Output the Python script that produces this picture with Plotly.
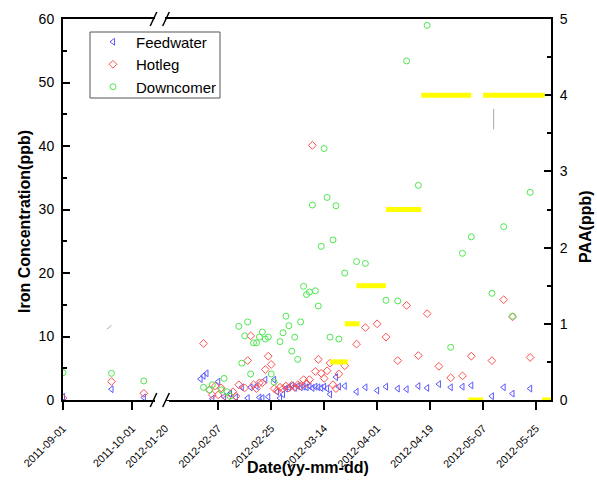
import plotly.graph_objects as go

# ---------------- data ----------------
feed_dates = ["2011-09-01", "2011-09-22", "2011-10-06",
              "2012-02-01", "2012-02-02", "2012-02-03", "2012-02-05", "2012-02-07", "2012-02-09",
              "2012-02-11", "2012-02-13", "2012-02-15", "2012-02-17", "2012-02-18", "2012-02-20",
              "2012-02-21", "2012-02-22", "2012-02-23", "2012-02-24", "2012-02-26", "2012-02-27",
              "2012-02-28", "2012-02-29", "2012-03-01", "2012-03-02", "2012-03-03", "2012-03-04",
              "2012-03-05", "2012-03-06", "2012-03-07", "2012-03-08", "2012-03-09", "2012-03-10",
              "2012-03-11", "2012-03-12", "2012-03-13", "2012-03-14", "2012-03-15", "2012-03-16",
              "2012-03-18", "2012-03-19", "2012-03-21", "2012-03-25", "2012-03-28", "2012-04-01",
              "2012-04-04", "2012-04-08", "2012-04-11", "2012-04-15", "2012-04-18", "2012-04-22",
              "2012-04-26", "2012-04-30", "2012-05-03", "2012-05-10", "2012-05-14", "2012-05-17",
              "2012-05-23"]
feed_vals = [0.5, 1.7, 0.4,
             3.3, 3.8, 4.2, 0.2, 2.9, 0.5,
             1.0, 0.4, 2.0, 0.3, 2.0, 2.2,
             0.4, 0.3, 3.2, 0.5, 3.2, 1.3,
             0.3, 0.9, 1.8, 2.0, 2.3, 1.9,
             2.2, 2.0, 2.1, 2.0, 2.2, 1.9,
             2.1, 2.0, 1.9, 2.1, 1.8, 0.9,
             3.6, 2.1, 2.2, 1.3, 2.0, 1.5,
             2.1, 1.8, 1.7, 2.2, 1.9, 2.5,
             2.0, 2.1, 2.3, 0.6, 2.0, 1.0,
             1.8]

hot_dates = ["2011-09-01", "2011-09-22", "2011-10-06",
             "2012-02-02", "2012-02-04", "2012-02-05", "2012-02-06", "2012-02-07", "2012-02-08",
             "2012-02-10", "2012-02-12", "2012-02-13", "2012-02-14", "2012-02-16", "2012-02-17",
             "2012-02-18", "2012-02-19", "2012-02-20", "2012-02-21", "2012-02-22", "2012-02-23",
             "2012-02-24", "2012-02-25", "2012-02-26", "2012-02-27", "2012-02-28", "2012-02-29",
             "2012-03-01", "2012-03-02", "2012-03-03", "2012-03-04", "2012-03-05", "2012-03-06",
             "2012-03-07", "2012-03-08", "2012-03-09", "2012-03-10", "2012-03-11", "2012-03-12",
             "2012-03-13", "2012-03-14", "2012-03-15", "2012-03-16", "2012-03-17", "2012-03-18",
             "2012-03-19", "2012-03-21", "2012-03-25", "2012-03-28", "2012-04-01", "2012-04-04",
             "2012-04-08", "2012-04-11", "2012-04-15", "2012-04-18", "2012-04-22", "2012-04-26",
             "2012-04-30", "2012-05-03", "2012-05-10", "2012-05-14", "2012-05-17", "2012-05-23"]
hot_vals = [0.3, 2.9, 1.05,
            8.9, 1.6, 0.8, 2.2, 0.8, 1.9,
            0.3, 1.3, 0.6, 2.4, 1.9, 6.2,
            10.1, 2.4, 1.8, 2.7, 2.7, 4.8,
            6.9, 5.6, 1.8, 1.5, 2.0, 1.8,
            2.2, 1.9, 2.3, 2.0, 2.4, 2.2,
            3.2, 2.6, 3.2, 40.1, 4.5, 6.4,
            4.2, 3.4, 4.6, 5.8, 2.4, 1.8,
            4.1, 5.4, 8.8, 11.4, 12.0, 9.9,
            6.2, 14.9, 7.0, 13.6, 5.3, 3.5,
            3.8, 6.9, 6.2, 15.8, 13.1, 6.7]

down_dates = ["2011-09-01", "2011-09-22", "2011-10-06",
              "2012-02-02", "2012-02-04", "2012-02-05", "2012-02-08", "2012-02-09", "2012-02-10",
              "2012-02-11", "2012-02-14", "2012-02-15", "2012-02-16", "2012-02-17", "2012-02-18",
              "2012-02-19", "2012-02-20", "2012-02-21", "2012-02-22", "2012-02-23", "2012-02-24",
              "2012-02-25", "2012-02-26", "2012-02-28", "2012-02-29", "2012-03-01", "2012-03-02",
              "2012-03-03", "2012-03-04", "2012-03-05", "2012-03-06", "2012-03-07", "2012-03-08",
              "2012-03-09", "2012-03-10", "2012-03-11", "2012-03-12", "2012-03-13", "2012-03-14",
              "2012-03-15", "2012-03-16", "2012-03-17", "2012-03-18", "2012-03-19", "2012-03-21",
              "2012-03-25", "2012-03-28", "2012-04-04", "2012-04-08", "2012-04-11", "2012-04-15",
              "2012-04-18", "2012-04-26", "2012-04-30", "2012-05-03", "2012-05-10", "2012-05-14",
              "2012-05-17", "2012-05-23"]
down_vals = [4.3, 4.2, 3.0,
             2.0, 1.6, 2.4, 1.6, 3.4, 1.3,
             0.6, 11.6, 5.8, 10.1, 12.3, 4.1,
             9.0, 9.0, 9.9, 10.7, 9.6, 9.9,
             4.1, 2.8, 9.2, 10.6, 13.2, 11.7,
             7.7, 9.9, 6.4, 12.3, 17.9, 16.6,
             17.0, 30.7, 17.2, 14.8, 24.2, 39.6,
             31.9, 9.9, 25.2, 30.6, 9.6, 20.0,
             21.8, 21.5, 15.7, 15.6, 53.4, 33.8,
             59.0, 8.3, 23.1, 25.7, 16.8, 27.3,
             13.2, 32.7]

# PAA step levels (right axis)
paa_start = ["2012-03-16", "2012-03-21", "2012-03-25", "2012-04-04", "2012-04-16",
             "2012-05-02", "2012-05-07", "2012-05-27"]
paa_end = ["2012-03-22", "2012-03-26", "2012-04-04", "2012-04-16", "2012-05-03",
           "2012-05-07", "2012-05-28", "2012-05-31"]
paa_vals = [0.5, 1.0, 1.5, 2.5, 4.0, 0.0, 4.0, 0.0]

# small grey marks (right axis)
grey1_dates = ["2011-09-20", "2011-09-22"]
grey1_vals = [0.93, 0.98]
grey2_dates = ["2012-05-10 14:00", "2012-05-10 14:00"]
grey2_vals = [3.55, 3.82]

x1_ticks = ["2011-09-01", "2011-10-01"]
x2_ticks = ["2012-01-20", "2012-02-07", "2012-02-25", "2012-03-14", "2012-04-01",
            "2012-04-19", "2012-05-07", "2012-05-25"]

# ---------------- layout geometry ----------------
W, H = 597, 480
L, R, T, B = 63, 551, 19, 400
BRK = 160
PW, PH = R - L, B - T
d = (BRK - L) / PW


def px(xp):
    return (xp - L) / PW


def py(yp):
    return (B - yp) / PH


FONT = "Arial, 'Liberation Sans', sans-serif"
BLUE, RED, GREEN = "#5a5aff", "#ff5050", "#4fe64f"

fig = go.Figure()

series = [("Feedwater", feed_dates, feed_vals, "triangle-left-open", BLUE),
          ("Hotleg", hot_dates, hot_vals, "diamond-open", RED),
          ("Downcomer", down_dates, down_vals, "circle-open", GREEN)]

for name, dates, vals, sym, col in series:
    pre = [(dd, v) for dd, v in zip(dates, vals) if dd < "2012-01-01"]
    post = [(dd, v) for dd, v in zip(dates, vals) if dd >= "2012-01-01"]
    mk = dict(symbol=sym, size=6, color=col, line=dict(width=1, color=col))
    fig.add_trace(go.Scatter(x=[p[0] for p in pre], y=[p[1] for p in pre], mode="markers",
                             marker=mk, name=name, legendgroup=name, showlegend=False,
                             xaxis="x", yaxis="y"))
    fig.add_trace(go.Scatter(x=[p[0] for p in post], y=[p[1] for p in post], mode="markers",
                             marker=mk, name=name, legendgroup=name, showlegend=True,
                             xaxis="x2", yaxis="y"))

paa_x, paa_y = [], []
for s, e, v in zip(paa_start, paa_end, paa_vals):
    paa_x += [s, e, None]
    paa_y += [v, v, None]
fig.add_trace(go.Scatter(x=paa_x, y=paa_y, mode="lines", line=dict(color="#ffff00", width=5),
                         showlegend=False, xaxis="x2", yaxis="y2", hoverinfo="skip"))
fig.add_trace(go.Scatter(x=grey2_dates, y=grey2_vals, mode="lines",
                         line=dict(color="#aaaaaa", width=1), showlegend=False,
                         xaxis="x2", yaxis="y2"))
fig.add_trace(go.Scatter(x=grey1_dates, y=grey1_vals, mode="lines",
                         line=dict(color="#aaaaaa", width=1), showlegend=False,
                         xaxis="x", yaxis="y2"))

xcommon = dict(type="date", ticks="outside", ticklen=8, tickwidth=1.5, tickcolor="black",
               tickangle=-45, tickfont=dict(size=10.8, family=FONT, color="black"),
               ticklabelstandoff=8, automargin=False,
               showline=True, linewidth=2, linecolor="black", mirror=True,
               showgrid=False, zeroline=False, anchor="y")

fig.update_layout(
    width=W, height=H,
    margin=dict(l=L, r=W - R, t=T, b=H - B, pad=0, autoexpand=False),
    plot_bgcolor="white", paper_bgcolor="white",
    font=dict(family=FONT, color="black"),
    xaxis=dict(domain=[0, d], range=["2011-09-01", "2011-10-13"],
               tickvals=x1_ticks, ticktext=x1_ticks, **xcommon),
    xaxis2=dict(domain=[d, 1], range=["2012-01-18 05:00", "2012-05-30 02:00"],
                tickvals=x2_ticks, ticktext=x2_ticks, **xcommon),
    yaxis=dict(range=[0, 60], domain=[0, 1], anchor="x", dtick=10, tick0=0,
               ticks="inside", ticklen=7, tickwidth=1.5, tickcolor="black",
               minor=dict(ticks="inside", ticklen=4, dtick=5, tickcolor="black", tickwidth=1.5),
               showline=True, linewidth=2, linecolor="black", showgrid=False, zeroline=False,
               tickfont=dict(size=14, family=FONT), ticklabelstandoff=4, automargin=False),
    yaxis2=dict(range=[0, 5], overlaying="y", side="right", anchor="x2", dtick=1, tick0=0,
                ticks="inside", ticklen=7, tickwidth=1.5, tickcolor="black",
                minor=dict(ticks="inside", ticklen=4, dtick=0.5, tickcolor="black", tickwidth=1.5),
                showline=True, linewidth=2, linecolor="black", showgrid=False, zeroline=False,
                tickfont=dict(size=14, family=FONT), ticklabelstandoff=4, automargin=False),
    legend=dict(x=px(90), y=py(25.5), xanchor="left", yanchor="top",
                bgcolor="rgba(0,0,0,0)", borderwidth=0,
                font=dict(size=15, family=FONT), itemwidth=36,
                tracegroupgap=0),
    showlegend=True,
)

annotations = [
    dict(text="<b>Date(yy-mm-dd)</b>", x=px(308), y=py(467), xref="paper", yref="paper",
         xanchor="center", yanchor="middle",
         showarrow=False, font=dict(size=16, family=FONT)),
    dict(text="<b>Iron Concentration(ppb)</b>", x=px(24), y=py(222), xref="paper", yref="paper",
         xanchor="center", yanchor="middle",
         showarrow=False, textangle=-90, font=dict(size=16, family=FONT)),
    dict(text="<b>PAA(ppb)</b>", x=px(585), y=py(227), xref="paper", yref="paper",
         xanchor="center", yanchor="middle",
         showarrow=False, textangle=-90, font=dict(size=16, family=FONT)),
]
fig.update_layout(annotations=annotations)

shapes = []
# legend frame
shapes.append(dict(type="rect", xref="paper", yref="paper",
                   x0=px(90), x1=px(220), y0=py(98), y1=py(32),
                   fillcolor="white", line=dict(color="#555555", width=1), layer="above"))
# axis-break marks on bottom and top axes
for yb in (B, T):
    shapes.append(dict(type="rect", xref="paper", yref="paper",
                       x0=px(155), x1=px(165), y0=py(yb + 3), y1=py(yb - 3),
                       fillcolor="white", line=dict(width=0), layer="above"))
    if yb == B:
        shapes.append(dict(type="rect", xref="paper", yref="paper",
                           x0=px(162), x1=px(169), y0=py(yb + 10), y1=py(yb + 1),
                           fillcolor="white", line=dict(width=0), layer="above"))
    for cx in (153.5, 166):
        shapes.append(dict(type="line", xref="paper", yref="paper",
                           x0=px(cx - 3.3), y0=py(yb + 7), x1=px(cx + 3.3), y1=py(yb - 7),
                           line=dict(color="black", width=1.5), layer="above"))
fig.update_layout(shapes=shapes)

fig.write_html("out.html",
               config={"displayModeBar": False},
               post_script="document.body.style.margin='0px';"
                           "document.body.style.overflow='hidden';")
